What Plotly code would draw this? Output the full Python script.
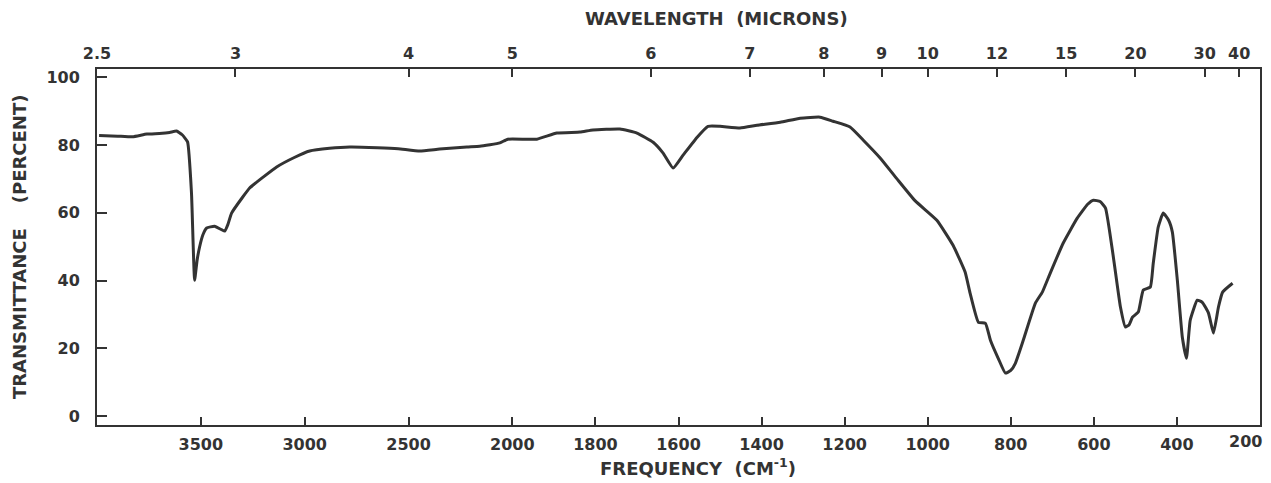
import plotly.graph_objects as go

# ---- data ----
freq = [3990, 3900, 3829, 3760, 3700, 3650, 3617, 3590, 3564, 3545, 3530, 3518, 3506,
        3490, 3472, 3434, 3400, 3385, 3370, 3352, 3300, 3265, 3200, 3135, 3050, 2976,
        2880, 2783, 2650, 2550, 2446, 2350, 2219, 2157, 2060, 2022, 1941, 1893, 1837,
        1806, 1741, 1700, 1661, 1637, 1613, 1589, 1555, 1529, 1500, 1452, 1411, 1355,
        1307, 1259, 1228, 1187, 1155, 1114, 1074, 1030, 978, 939, 910, 898, 878, 861,
        849, 830, 813, 800, 789, 770, 741, 724, 705, 674, 640, 615, 601, 585, 572, 553,
        536, 524, 515, 507, 493, 481, 464, 457, 445, 433, 420, 411, 399, 387, 377, 368,
        351, 339, 324, 312, 300, 290, 266]
transmittance = [82.8, 82.6, 82.4, 83.2, 83.4, 83.7, 84.1, 83.0, 80.9, 65.8, 40.1, 46.0, 49.9,
                 53.5, 55.5, 56.0, 55.0, 54.6, 56.5, 59.9, 64.5, 67.3, 70.5, 73.5, 76.3, 78.2,
                 79.0, 79.4, 79.2, 78.9, 78.2, 78.8, 79.4, 79.6, 80.6, 81.7, 81.7, 83.5, 83.8,
                 84.4, 84.7, 83.5, 80.8, 77.6, 73.2, 77.0, 82.3, 85.5, 85.5, 85.0, 85.8, 86.7,
                 87.9, 88.2, 87.0, 85.3, 81.4, 76.1, 70.0, 63.5, 57.8, 50.4, 42.5, 36.3, 27.7, 27.4,
                 22.4, 17.0, 12.7, 13.5, 15.6, 22.4, 33.3, 36.6, 42.2, 51.0, 58.4, 62.5, 63.7, 63.3, 61.4, 46.9,
                 32.2, 26.3, 27.0, 29.2, 30.7, 37.2, 38.1, 45.1, 55.8, 59.9, 57.8, 54.3, 40.1, 23.3, 17.1, 28.3,
                 34.2, 33.6, 30.4, 24.5, 32.2, 36.6, 39.2]

freq_ticks = [3500, 3000, 2500, 2000, 1800, 1600, 1400, 1200, 1000, 800, 600, 400]
freq_labels = ["3500", "3000", "2500", "2000", "1800", "1600", "1400", "1200", "1000", "800", "600", "400"]
micron_ticks = [2.5, 3, 4, 5, 6, 7, 8, 9, 10, 12, 15, 20, 30, 40]
micron_labels = ["2.5", "3", "4", "5", "6", "7", "8", "9", "10", "12", "15", "20", "30", "40"]
y_ticks = [0, 20, 40, 60, 80, 100]


# chart-paper scale: 4000-2000 cm-1 at half the scale of 2000-200 cm-1
def to_axis(f):
    return (4000 - f) / 2.0 if f >= 2000 else 1000 + (2000 - f)


xs = [to_axis(f) for f in freq]
INK = "#333333"
FONT = "DejaVu Sans"
TICKFONT = dict(size=16, weight="bold")
TITLEFONT = dict(size=18, weight="bold")

fig = go.Figure()
fig.add_trace(go.Scatter(x=xs, y=transmittance, mode="lines",
                         line=dict(color=INK, width=3, shape="spline", smoothing=0.4),
                         showlegend=False, hoverinfo="skip"))
fig.add_trace(go.Scatter(x=xs, y=transmittance, mode="lines", xaxis="x2",
                         line=dict(color="rgba(0,0,0,0)", width=0), showlegend=False, hoverinfo="skip"))

fig.update_layout(
    width=1271, height=483,
    margin=dict(l=97, r=11, t=69, b=58),
    paper_bgcolor="white", plot_bgcolor="white",
    font=dict(family=FONT, color=INK, size=16),
    xaxis=dict(range=[0, 2800], tickmode="array", automargin=False,
               tickvals=[to_axis(f) for f in freq_ticks], ticktext=freq_labels,
               ticks="inside", ticklen=8, tickwidth=1.5, tickcolor=INK,
               showline=True, linecolor=INK, linewidth=2, showgrid=False, zeroline=False,
               tickfont=TICKFONT, ticklabelstandoff=4),
    xaxis2=dict(range=[0, 2800], overlaying="x", side="top", tickmode="array", automargin=False,
                tickvals=[to_axis(10000.0 / m) for m in micron_ticks], ticktext=micron_labels,
                ticks="inside", ticklen=8, tickwidth=1.5, tickcolor=INK,
                showline=True, linecolor=INK, linewidth=2, showgrid=False, zeroline=False,
                tickfont=TICKFONT, ticklabelstandoff=2),
    yaxis=dict(range=[-2.6, 102.4], tickmode="array", tickvals=y_ticks, automargin=False,
               ticktext=[str(v) for v in y_ticks],
               ticks="inside", ticklen=10, tickwidth=1.5, tickcolor=INK,
               showline=True, linecolor=INK, linewidth=2, mirror=True,
               showgrid=False, zeroline=False, tickfont=TICKFONT, ticklabelstandoff=12),
    annotations=[
        dict(text="WAVELENGTH\u00a0\u00a0(MICRONS)", xref="paper", yref="paper", x=0.533, y=1.143,
             xanchor="center", yanchor="middle", showarrow=False, font=TITLEFONT),
        dict(text="FREQUENCY\u00a0\u00a0(CM<sup>-1</sup>)", xref="paper", yref="paper", x=0.517, y=-0.118,
             xanchor="center", yanchor="middle", showarrow=False, font=TITLEFONT),
        dict(text="TRANSMITTANCE\u00a0\u00a0\u00a0\u00a0(PERCENT)", xref="paper", yref="paper", x=-0.067, y=0.5,
             xanchor="center", yanchor="middle", textangle=-90, showarrow=False, font=TITLEFONT),
        dict(text="200", xref="paper", yref="paper", x=1.0, y=-0.045, xanchor="right", xshift=4,
             yanchor="middle", showarrow=False, font=TICKFONT),
    ],
)

fig.write_html("out.html", config={"displayModeBar": False},
               post_script="document.body.style.margin='0';document.body.style.overflow='hidden';")
